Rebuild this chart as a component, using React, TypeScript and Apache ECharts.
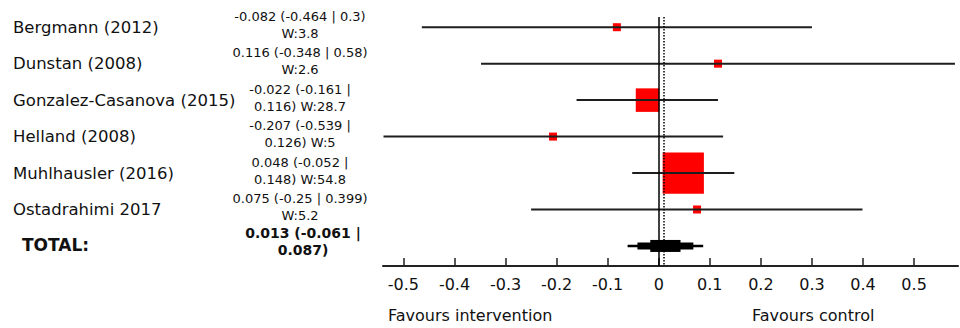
import { useEffect, useRef } from 'react';
import * as echarts from 'echarts';

const studies = ['Bergmann (2012)', 'Dunstan (2008)', 'Gonzalez-Casanova (2015)', 'Helland (2008)', 'Muhlhausler (2016)', 'Ostadrahimi 2017'];
const estimates = [-0.082, 0.116, -0.022, -0.207, 0.048, 0.075];
const lowerCI = [-0.464, -0.348, -0.161, -0.539, -0.052, -0.25];
const upperCI = [0.3, 0.58, 0.116, 0.126, 0.148, 0.399];
const weights = [3.8, 2.6, 28.7, 5, 54.8, 5.2];
const totalLabel = 'TOTAL:';
const totalEstimate = 0.013;
const totalLower = -0.061;
const totalUpper = 0.087;
const xTicks = [-0.5, -0.4, -0.3, -0.2, -0.1, 0, 0.1, 0.2, 0.3, 0.4, 0.5];
const xMin = -0.54;
const xMax = 0.586;
const leftNote = 'Favours intervention';
const rightNote = 'Favours control';

const FONT = 'DejaVu Sans';

function statText(est: number, lo: number, hi: number, w?: number): string {
  const head = `${est} (${lo} | ${hi})`;
  if (w === undefined) {
    return `${est} (${lo} |\n${hi})`;
  }
  if (head.length <= 21) return `${head}\nW:${w}`;
  return `${est} (${lo} |\n${hi}) W:${w}`;
}

export default function App() {
  const ref = useRef<HTMLDivElement>(null);
  useEffect(() => {
    if (!ref.current) return;
    const chart = echarts.init(ref.current, undefined, { renderer: 'svg' });
    const totalRow = studies.length;

    const option: any = {
      animation: false,
      backgroundColor: '#ffffff',
      grid: { left: 383, right: 2, top: 17, bottom: 62, containLabel: false },
      xAxis: {
        type: 'value',
        min: xMin,
        max: xMax,
        splitLine: { show: false },
        axisLine: { show: true, onZero: false, lineStyle: { color: '#222', width: 2 } },
        axisTick: { show: true, inside: true, length: 8, customValues: xTicks, lineStyle: { color: '#222', width: 1.5 } },
        axisLabel: {
          customValues: xTicks,
          margin: 10,
          color: '#111',
          fontFamily: FONT,
          fontSize: 16,
          formatter: (v: number) => String(+v.toFixed(1)),
        },
      },
      yAxis: { type: 'value', inverse: true, min: -0.28, max: 6.55, show: false },
      graphic: [
        { type: 'text', left: 388, top: 307, style: { text: leftNote, fontFamily: FONT, fontSize: 16, fill: '#111' } },
        { type: 'text', left: 752, top: 307, style: { text: rightNote, fontFamily: FONT, fontSize: 16, fill: '#111' } },
      ],
      series: [
        {
          type: 'custom',
          name: 'squares',
          z: 1,
          clip: false,
          encode: { x: 0, y: 1 },
          data: estimates.map((e, i) => [e, i, weights[i]]),
          renderItem: (params: any, api: any) => {
            const c = api.coord([api.value(0), api.value(1)]);
            const s = Math.max(8, 4 + 0.68 * api.value(2));
            return { type: 'rect', shape: { x: c[0] - s / 2, y: c[1] - s / 2, width: s, height: s }, style: { fill: '#ff0000' } };
          },
        },
        {
          type: 'custom',
          name: 'ci',
          z: 2,
          clip: false,
          encode: { x: [0, 1], y: 2 },
          data: lowerCI.map((l, i) => [l, upperCI[i], i]),
          renderItem: (params: any, api: any) => {
            const p1 = api.coord([api.value(0), api.value(2)]);
            const p2 = api.coord([api.value(1), api.value(2)]);
            return { type: 'line', shape: { x1: p1[0], y1: p1[1], x2: p2[0], y2: p2[1] }, style: { stroke: '#1e1e1e', lineWidth: 2 } };
          },
          markLine: {
            silent: true,
            symbol: 'none',
            label: { show: false },
            data: [
              { xAxis: 0, lineStyle: { color: '#000', width: 1.5, type: 'solid' } },
              { xAxis: totalEstimate, lineStyle: { color: '#000', width: 1.5, type: [1.5, 1.5] } },
            ],
          },
        },
        {
          type: 'custom',
          name: 'total',
          z: 3,
          clip: false,
          encode: { x: [0, 1, 2], y: 3 },
          data: [[totalEstimate, totalLower, totalUpper, totalRow]],
          renderItem: (params: any, api: any) => {
            const row = api.value(3);
            const c = api.coord([api.value(0), row]);
            const l = api.coord([api.value(1), row])[0];
            const r = api.coord([api.value(2), row])[0];
            const layers = [[1, 2.5], [0.74, 7], [0.4, 12]];
            return {
              type: 'group',
              children: layers.map(([f, h]) => ({
                type: 'rect',
                shape: { x: c[0] - f * (c[0] - l), y: c[1] - h / 2, width: f * (r - l), height: h },
                style: { fill: '#000' },
              })),
            };
          },
        },
        {
          type: 'custom',
          name: 'labels',
          z: 4,
          clip: false,
          silent: true,
          encode: { x: 0, y: 1 },
          data: [...studies.map((_, i) => [0, i]), [0, totalRow]],
          renderItem: (params: any, api: any) => {
            const i = params.dataIndex;
            const y = api.coord([0, api.value(1)])[1];
            const isTotal = i === studies.length;
            const name = isTotal ? totalLabel : studies[i];
            const stat = isTotal
              ? statText(totalEstimate, totalLower, totalUpper)
              : statText(estimates[i], lowerCI[i], upperCI[i], weights[i]);
            return {
              type: 'group',
              children: [
                {
                  type: 'text',
                  style: {
                    text: name, x: isTotal ? 22 : 13, y: isTotal ? y - 1 : y,
                    fontFamily: FONT, fontSize: isTotal ? 17 : 16.5, fontWeight: isTotal ? 'bold' : 'normal',
                    fill: '#111', align: 'left', verticalAlign: 'middle',
                  },
                },
                {
                  type: 'text',
                  style: {
                    text: stat, x: isTotal ? 303 : 300, y: y - (isTotal ? 4 : 2.5),
                    fontFamily: FONT, fontSize: isTotal ? 14 : 13, lineHeight: 17, fontWeight: isTotal ? 'bold' : 'normal',
                    fill: '#111', align: 'center', verticalAlign: 'middle',
                  },
                },
              ],
            };
          },
        },
      ],
    };
    chart.setOption(option);
    return () => chart.dispose();
  }, []);
  return <div ref={ref} style={{ position: 'absolute', left: 0, top: 0, width: 960, height: 328 }} />;
}
